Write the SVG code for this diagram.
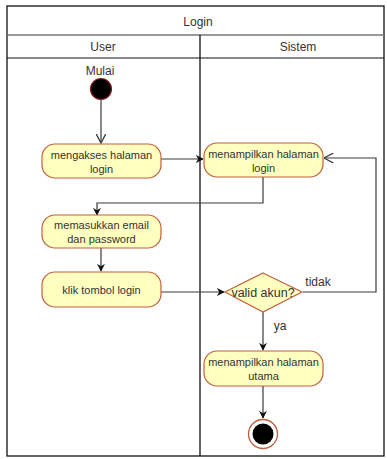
<svg xmlns="http://www.w3.org/2000/svg" width="387" height="459" viewBox="0 0 387 459">
<style>
.t{font-family:"Liberation Sans",Arial,sans-serif;fill:#333;text-anchor:middle}
.n{font-size:11px}
.h{font-size:12px}
.act{fill:#FFFFC0;stroke:#C0603E;stroke-width:1.2}
.c{fill:none;stroke:#3a3a3a;stroke-width:1.2}
</style>
<defs>
<marker id="fa" viewBox="0 0 10 10" refX="9" refY="5" markerWidth="8" markerHeight="8" markerUnits="userSpaceOnUse" orient="auto"><path d="M0,0 L10,5 L0,10 L3,5 Z" fill="#111"/></marker>
<marker id="oa" viewBox="0 0 10 10" refX="9.5" refY="5" markerWidth="10" markerHeight="10" markerUnits="userSpaceOnUse" orient="auto"><path d="M0,0 L9.5,5 L0,10" fill="none" stroke="#3a3a3a" stroke-width="1.3"/></marker>
</defs>
<rect width="387" height="459" fill="#fff"/>
<g id="frame">
<rect x="7" y="6" width="377" height="450" fill="none" stroke="#111" stroke-width="1.3"/>
<line x1="7" y1="35" x2="384" y2="35" stroke="#777" stroke-width="1.6"/>
<line x1="7" y1="58" x2="384" y2="58" stroke="#111" stroke-width="1.2"/>
<line x1="200" y1="35" x2="200" y2="456" stroke="#111" stroke-width="1.3"/>
<text class="t h" x="198" y="26">Login</text>
<text class="t h" x="103" y="51">User</text>
<text class="t h" x="298" y="51">Sistem</text>
</g>
<g id="connectors">
<line class="c" x1="101" y1="100" x2="101" y2="143" marker-end="url(#oa)"/>
<line class="c" x1="161" y1="159" x2="203" y2="159" marker-end="url(#fa)"/>
<polyline class="c" points="263,177 263,203 97,203 97,215" stroke="#111" marker-end="url(#fa)"/>
<line class="c" x1="101" y1="248" x2="101" y2="271" marker-end="url(#fa)"/>
<line class="c" x1="161" y1="292" x2="224" y2="292" marker-end="url(#fa)"/>
<polyline class="c" points="303,292 376,292 376,158 324,158" marker-end="url(#oa)"/>
<line class="c" x1="263" y1="312" x2="263" y2="350" marker-end="url(#fa)"/>
<line class="c" x1="263" y1="386" x2="263" y2="418" marker-end="url(#fa)"/>
<text class="t h" x="318" y="286">tidak</text>
<text class="t h" x="280" y="330">ya</text>
</g>
<g id="start">
<text class="t h" x="100" y="75">Mulai</text>
<circle cx="101" cy="89" r="10.5" fill="#000" stroke="#8B1A1A" stroke-width="1.2"/>
</g>
<g id="n1">
<rect class="act" x="42" y="144" width="119" height="34" rx="13"/>
<text class="t n" x="101.5" y="159">mengakses halaman</text>
<text class="t n" x="101.5" y="173">login</text>
</g>
<g id="n2">
<rect class="act" x="204" y="143" width="119" height="34" rx="13"/>
<text class="t n" x="263.5" y="158">menampilkan halaman</text>
<text class="t n" x="263.5" y="172">login</text>
</g>
<g id="n3">
<rect class="act" x="42" y="215" width="119" height="33" rx="13"/>
<text class="t n" x="101.5" y="229">memasukkan email</text>
<text class="t n" x="101.5" y="243">dan password</text>
</g>
<g id="n4">
<rect class="act" x="42" y="272" width="119" height="35" rx="13"/>
<text class="t n" x="101.5" y="294">klik tombol login</text>
</g>
<g id="decision">
<polygon class="act" points="263,273 302,292 263,312 225,292"/>
<text class="t" x="263" y="297" font-size="12.5">valid akun?</text>
</g>
<g id="n5">
<rect class="act" x="204" y="351" width="119" height="35" rx="13"/>
<text class="t n" x="263.5" y="366">menampilkan halaman</text>
<text class="t n" x="263.5" y="380">utama</text>
</g>
<g id="end">
<circle cx="263" cy="434" r="14.5" fill="#fff" stroke="#C0603E" stroke-width="1.3"/>
<circle cx="263" cy="434" r="10.5" fill="#000"/>
</g>
</svg>
